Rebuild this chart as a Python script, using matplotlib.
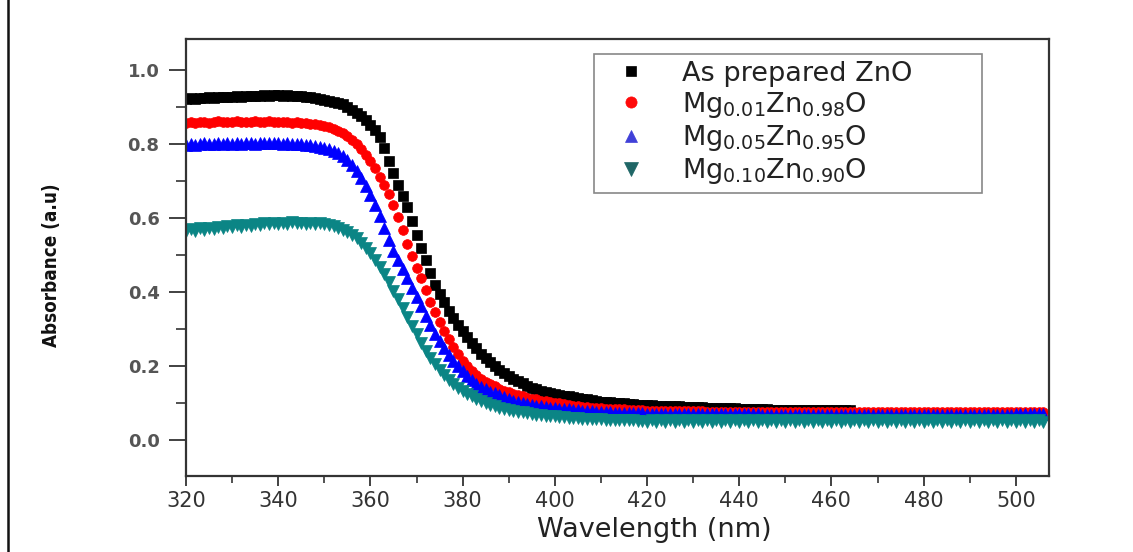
import numpy as np
import matplotlib
matplotlib.use('Agg')
import matplotlib.pyplot as plt
from matplotlib import font_manager
from matplotlib.patches import Rectangle

# ---------------- data (absorbance read every 1 nm, starting at 320 nm) ----------------
wl_start = 320

abs_zno = [
    0.922, 0.924, 0.923, 0.925, 0.924, 0.926, 0.925, 0.927, 0.926, 0.928,
    0.927, 0.929, 0.928, 0.930, 0.929, 0.931, 0.930, 0.932, 0.931, 0.932,
    0.933, 0.931, 0.932, 0.930, 0.931, 0.929, 0.928, 0.926, 0.925, 0.922,
    0.920, 0.917, 0.914, 0.911, 0.907, 0.900, 0.893, 0.885, 0.875, 0.864,
    0.852, 0.838, 0.818, 0.790, 0.755, 0.722, 0.690, 0.660, 0.630, 0.592,
    0.555, 0.520, 0.488, 0.452, 0.420, 0.395, 0.372, 0.350, 0.330, 0.311,
    0.294, 0.278, 0.262, 0.248, 0.234, 0.222, 0.210, 0.199, 0.190, 0.181,
    0.173, 0.166, 0.159, 0.153, 0.147, 0.142, 0.138, 0.134, 0.130, 0.127,
    0.124, 0.122, 0.120, 0.118, 0.116, 0.114, 0.112, 0.110, 0.108, 0.106,
    0.104, 0.103, 0.102, 0.101, 0.100, 0.099, 0.098, 0.097, 0.096, 0.095,
    0.094, 0.094, 0.093, 0.093, 0.092, 0.092, 0.091, 0.091, 0.090, 0.090,
    0.089, 0.089, 0.089, 0.088, 0.088, 0.088, 0.087, 0.087, 0.086, 0.086,
    0.085, 0.085, 0.084, 0.084, 0.083, 0.083, 0.083, 0.082, 0.082, 0.082,
    0.082, 0.082, 0.081, 0.081, 0.081, 0.081, 0.081, 0.081, 0.081, 0.081,
    0.081, 0.081, 0.081, 0.081, 0.081,
]

abs_mg001 = [
    0.858, 0.860, 0.857, 0.859, 0.861, 0.858, 0.860, 0.862, 0.859, 0.861,
    0.860, 0.862, 0.859, 0.861, 0.860, 0.862, 0.861, 0.860, 0.862, 0.860,
    0.861, 0.859, 0.860, 0.858, 0.859, 0.857, 0.856, 0.855, 0.853, 0.851,
    0.848, 0.845, 0.841, 0.836, 0.830, 0.822, 0.812, 0.800, 0.786, 0.771,
    0.755, 0.735, 0.712, 0.690, 0.665, 0.636, 0.602, 0.568, 0.530, 0.497,
    0.466, 0.438, 0.405, 0.372, 0.345, 0.320, 0.296, 0.273, 0.252, 0.233,
    0.215, 0.200, 0.187, 0.176, 0.166, 0.158, 0.151, 0.145, 0.139, 0.134,
    0.129, 0.125, 0.121, 0.118, 0.115, 0.112, 0.110, 0.107, 0.105, 0.103,
    0.101, 0.099, 0.097, 0.095, 0.093, 0.091, 0.090, 0.089, 0.088, 0.087,
    0.086, 0.085, 0.084, 0.084, 0.083, 0.083, 0.082, 0.082, 0.081, 0.081,
    0.080, 0.080, 0.080, 0.079, 0.079, 0.079, 0.079, 0.078, 0.078, 0.078,
    0.078, 0.078, 0.078, 0.077, 0.077, 0.077, 0.077, 0.077, 0.077, 0.077,
    0.077, 0.077, 0.076, 0.076, 0.076, 0.076, 0.076, 0.076, 0.076, 0.076,
    0.076, 0.076, 0.076, 0.076, 0.076, 0.076, 0.076, 0.076, 0.076, 0.076,
    0.076, 0.076, 0.075, 0.075, 0.075, 0.075, 0.075, 0.075, 0.075, 0.075,
    0.075, 0.075, 0.075, 0.075, 0.075, 0.075, 0.075, 0.075, 0.075, 0.075,
    0.075, 0.075, 0.075, 0.075, 0.075, 0.075, 0.075, 0.075, 0.075, 0.075,
    0.075, 0.075, 0.075, 0.075, 0.075, 0.075, 0.075, 0.075, 0.075, 0.075,
    0.075, 0.075, 0.075, 0.075, 0.075, 0.075, 0.075,
]

abs_mg005 = [
    0.798, 0.801, 0.797, 0.800, 0.802, 0.799, 0.801, 0.803, 0.800, 0.802,
    0.801, 0.803, 0.800, 0.802, 0.804, 0.801, 0.803, 0.802, 0.804, 0.802,
    0.803, 0.801, 0.802, 0.800, 0.801, 0.799, 0.798, 0.797, 0.795, 0.793,
    0.790, 0.786, 0.781, 0.775, 0.767, 0.757, 0.744, 0.728, 0.708, 0.686,
    0.662, 0.635, 0.605, 0.572, 0.540, 0.512, 0.487, 0.462, 0.437, 0.411,
    0.388, 0.363, 0.336, 0.311, 0.288, 0.267, 0.249, 0.231, 0.214, 0.199,
    0.186, 0.173, 0.162, 0.152, 0.144, 0.137, 0.131, 0.126, 0.121, 0.116,
    0.111, 0.107, 0.104, 0.101, 0.098, 0.095, 0.093, 0.091, 0.089, 0.087,
    0.086, 0.085, 0.084, 0.083, 0.082, 0.081, 0.080, 0.079, 0.078, 0.077,
    0.076, 0.075, 0.075, 0.074, 0.074, 0.073, 0.073, 0.072, 0.072, 0.072,
    0.071, 0.071, 0.071, 0.071, 0.071, 0.070, 0.070, 0.070, 0.070, 0.070,
    0.070, 0.070, 0.070, 0.070, 0.070, 0.070, 0.070, 0.070, 0.070, 0.070,
    0.070, 0.070, 0.070, 0.070, 0.070, 0.069, 0.069, 0.069, 0.069, 0.069,
    0.069, 0.069, 0.069, 0.069, 0.069, 0.069, 0.069, 0.069, 0.069, 0.069,
    0.069, 0.069, 0.069, 0.069, 0.069, 0.069, 0.069, 0.069, 0.069, 0.069,
    0.069, 0.069, 0.069, 0.069, 0.069, 0.069, 0.069, 0.069, 0.069, 0.069,
    0.069, 0.069, 0.069, 0.069, 0.069, 0.069, 0.069, 0.069, 0.069, 0.069,
    0.069, 0.069, 0.069, 0.069, 0.069, 0.069, 0.069, 0.069, 0.069, 0.069,
    0.070, 0.070, 0.070, 0.070, 0.070, 0.070, 0.070,
]

abs_mg010 = [
    0.565, 0.570, 0.566, 0.572, 0.569, 0.574, 0.571, 0.576, 0.573, 0.578,
    0.575, 0.580, 0.577, 0.582, 0.579, 0.584, 0.581, 0.586, 0.583, 0.587,
    0.584, 0.588, 0.585, 0.589, 0.586, 0.588, 0.585, 0.587, 0.584, 0.586,
    0.583, 0.581, 0.578, 0.574, 0.569, 0.563, 0.555, 0.545, 0.534, 0.520,
    0.505, 0.488, 0.469, 0.449, 0.427, 0.404, 0.380, 0.356, 0.332, 0.309,
    0.286, 0.263, 0.242, 0.223, 0.206, 0.190, 0.176, 0.163, 0.152, 0.142,
    0.133, 0.125, 0.118, 0.111, 0.105, 0.100, 0.096, 0.092, 0.088, 0.085,
    0.082, 0.079, 0.077, 0.075, 0.073, 0.071, 0.069, 0.067, 0.066, 0.065,
    0.064, 0.063, 0.062, 0.061, 0.060, 0.059, 0.058, 0.057, 0.057, 0.056,
    0.056, 0.055, 0.055, 0.054, 0.054, 0.053, 0.053, 0.053, 0.052, 0.052,
    0.049, 0.054, 0.050, 0.053, 0.049, 0.055, 0.050, 0.053, 0.049, 0.054,
    0.050, 0.053, 0.049, 0.054, 0.050, 0.053, 0.049, 0.055, 0.050, 0.053,
    0.049, 0.054, 0.050, 0.053, 0.049, 0.054, 0.050, 0.053, 0.049, 0.055,
    0.050, 0.053, 0.049, 0.054, 0.050, 0.053, 0.049, 0.054, 0.050, 0.053,
    0.049, 0.055, 0.050, 0.053, 0.049, 0.054, 0.050, 0.053, 0.049, 0.054,
    0.050, 0.053, 0.049, 0.055, 0.050, 0.053, 0.049, 0.054, 0.050, 0.053,
    0.049, 0.054, 0.050, 0.053, 0.049, 0.055, 0.050, 0.053, 0.049, 0.054,
    0.050, 0.053, 0.049, 0.054, 0.050, 0.053, 0.049, 0.055, 0.050, 0.053,
    0.049, 0.054, 0.050, 0.053, 0.049, 0.054, 0.050,
]

series_labels = ['As prepared ZnO',
                 r'Mg$_{0.01}$Zn$_{0.98}$O',
                 r'Mg$_{0.05}$Zn$_{0.95}$O',
                 r'Mg$_{0.10}$Zn$_{0.90}$O']
series_values = [abs_zno, abs_mg001, abs_mg005, abs_mg010]

x_ticks = [320, 340, 360, 380, 400, 420, 440, 460, 480, 500]
y_ticks = [0.0, 0.2, 0.4, 0.6, 0.8, 1.0]
x_label = 'Wavelength (nm)'
y_label = 'Absorbance (a.u)'

# ---------------- styling ----------------
colors = ['#000000', '#ff0000', '#0000ff', '#0b8585']
legend_colors = ['#000000', '#ff0a0a', '#4040d8', '#1f6666']
markers = ['s', 'o', '^', 'v']
msizes = [6.8, 7.0, 8.0, 8.5]

plt.rcParams['font.family'] = ['DejaVu Sans']
plt.rcParams['mathtext.default'] = 'regular'

W, H = 1133, 552
fig = plt.figure(figsize=(W / 100, H / 100), dpi=100)
ax = fig.add_axes([186 / W, 1 - 476 / H, (1049 - 186) / W, (476 - 39) / H])

for vals, lab, c, m, ms in zip(series_values, series_labels, colors, markers, msizes):
    xs = wl_start + np.arange(len(vals))
    ax.plot(xs, vals, linestyle='none', marker=m, ms=ms, color=c, mec=c,
            mew=0.5, label=lab)

ax.set_xlim(320, 507.2)
ax.set_ylim(-0.097, 1.084)
ax.set_xticks(x_ticks)
ax.set_xticks(np.arange(330, 507, 20), minor=True)
ax.set_yticks(y_ticks)
ax.set_yticks([0.1, 0.3, 0.5, 0.7, 0.9], minor=True)
ax.set_yticklabels([f'{v:.1f}' for v in y_ticks])

ax.tick_params(axis='x', which='major', direction='out', length=7, width=1.3,
               labelsize=15, labelcolor='#333333', pad=4, color='#333333')
ax.tick_params(axis='x', which='minor', direction='out', length=5, width=1.2,
               color='#333333')
ax.tick_params(axis='y', which='major', direction='out', length=12, width=1.3,
               labelsize=13, labelcolor='#555555', pad=7, color='#333333')
ax.tick_params(axis='y', which='minor', direction='out', length=7, width=1.2,
               color='#333333')
for lbl in ax.get_yticklabels():
    lbl.set_fontweight('bold')
for sp in ax.spines.values():
    sp.set_linewidth(1.6)
    sp.set_color('#333333')

leg = ax.legend(loc='upper left', bbox_to_anchor=(0.473, 0.623, 0.449, 0.343),
                mode='expand', fontsize=19.5, frameon=True, fancybox=False,
                edgecolor='#888888', framealpha=1, handletextpad=0.8,
                labelspacing=0.12, borderpad=0.25, handlelength=2.2,
                borderaxespad=0, markerscale=1.15)
leg.get_frame().set_linewidth(1.2)
for t in leg.get_texts():
    t.set_color('#222222')
for h, c in zip(leg.legend_handles, legend_colors):
    h.set_color(c)
    h.set_markeredgecolor(c)
    h.set_markerfacecolor(c)

fig.text(654 / W, 1 - 530 / H, x_label, ha='center', va='center',
         fontsize=19.5, color='#222222')
fig.text(52 / W, 1 - 265 / H, y_label, ha='center', va='center', rotation=90,
         fontsize=13.5, fontweight='bold', fontstretch='condensed',
         color='#111111')

# outer frame of the figure image
fig.patches.append(Rectangle((8 / W, -0.2), 1.5, 1.2 + (1 - 10 / H), transform=fig.transFigure,
                             fill=False, lw=1.8, edgecolor='#111111', clip_on=False))

fig.savefig('out.png', dpi=100)
